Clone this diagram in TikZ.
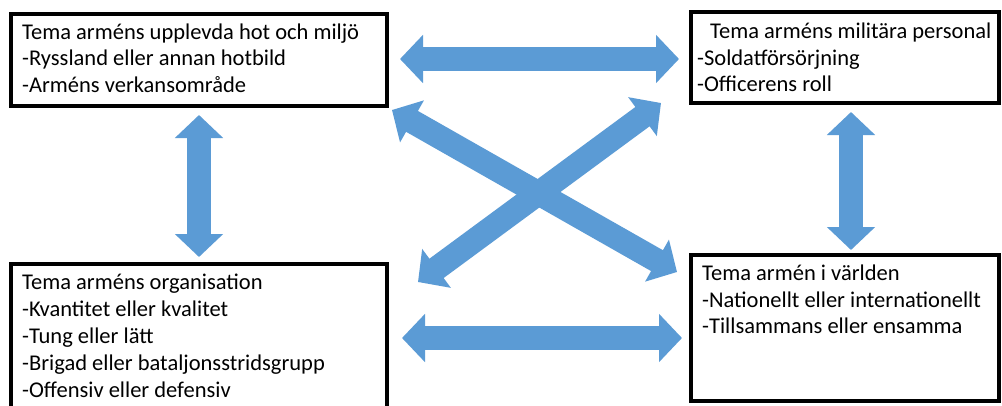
\documentclass[tikz,border=0pt]{standalone}
\usepackage{fontspec}
\setmainfont{Carlito}
\usetikzlibrary{arrows.meta}
\definecolor{arrowblue}{HTML}{5B9BD5}
\tikzset{
  box/.style={draw=black, line width=4pt, rectangle, inner sep=0pt},
  txt/.style={anchor=base west, inner sep=0pt, font=\fontsize{22.5}{27}\selectfont},
  barrow/.style={draw=arrowblue, line width=24pt,
    {Triangle[length=23pt,width=47pt]}-{Triangle[length=23pt,width=47pt]}},
}
\begin{document}
\begin{tikzpicture}[x=1pt,y=-1pt]
\useasboundingbox (0,0) rectangle (1002,405);
\clip (0,0) rectangle (1002,405);
\fill[white] (0,0) rectangle (1002,405);
% boxes
\node[box, minimum width=376pt, minimum height=92pt] (tl) at (199,60) {};
\node[box, minimum width=308pt, minimum height=91pt] (tr) at (845,57.5) {};
\node[box, minimum width=376pt, minimum height=146pt] (bl) at (199,337) {};
\node[box, minimum width=308pt, minimum height=146pt] (br) at (845,328) {};
% texts
\node[txt] (tl1) at (22,39) {Tema arméns upplevda hot och miljö};
\node[txt] (tl2) at (22,65) {-Ryssland eller annan hotbild};
\node[txt] (tl3) at (22,92) {-Arméns verkansområde};
\node[txt] (tr1) at (710,38) {Tema arméns militära personal};
\node[txt] (tr2) at (697,65) {-Soldatförsörjning};
\node[txt] (tr3) at (697,91) {-Officerens roll};
\node[txt] (bl1) at (22,289) {Tema arméns organisation};
\node[txt] (bl2) at (22,316) {-Kvantitet eller kvalitet};
\node[txt] (bl3) at (22,343) {-Tung eller lätt};
\node[txt] (bl4) at (22,370) {-Brigad eller bataljonsstridsgrupp};
\node[txt] (bl5) at (22,397) {-Offensiv eller defensiv};
\node[txt] (br1) at (702,280) {Tema armén i världen};
\node[txt] (br2) at (702,307) {-Nationellt eller internationellt};
\node[txt] (br3) at (702,333) {-Tillsammans eller ensamma};
% arrow end points
\coordinate (h1a) at (400,59);  \coordinate (h1b) at (679,59);
\coordinate (h2a) at (402,338); \coordinate (h2b) at (682,338);
\coordinate (v1a) at (199,115); \coordinate (v1b) at (199,257);
\coordinate (v2a) at (851,112); \coordinate (v2b) at (851,250);
\coordinate (d1a) at (392,110); \coordinate (d1b) at (677,272);
\coordinate (d2a) at (418,282); \coordinate (d2b) at (661,103);
\draw[barrow] (h1a) -- (h1b);
\draw[barrow] (h2a) -- (h2b);
\draw[barrow] (v1a) -- (v1b);
\draw[barrow] (v2a) -- (v2b);
\draw[barrow] (d2a) -- (d2b);
\draw[barrow] (d1a) -- (d1b);
\end{tikzpicture}
\end{document}
